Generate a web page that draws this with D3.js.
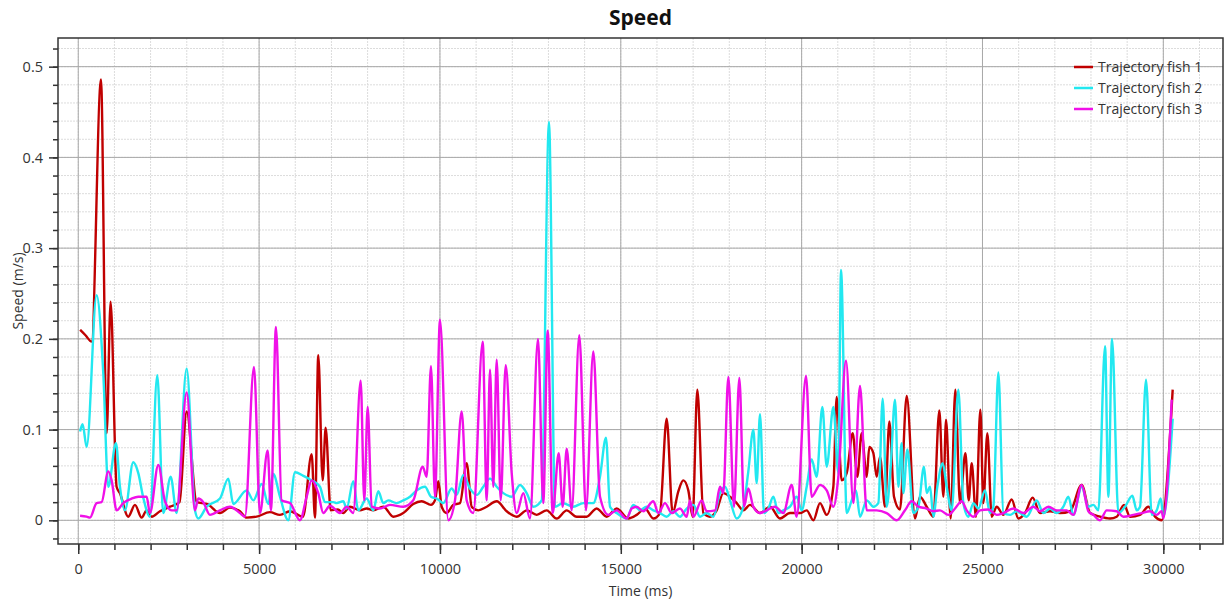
<!DOCTYPE html>
<html lang="en">
<head>
    <meta charset="UTF-8">
    <script src="https://d3js.org/d3.v7.min.js"></script>
    <title>Speed</title>
    <style>
        body { margin: 0; background: #fff; }
        svg text { font-family: "Open Sans", "Noto Sans", sans-serif; fill: #333; }
    </style>
</head>
<body>
    <div id="chart"></div>

    <script type="text/javascript">
        // [time (ms), speed (m/s)]
        const fish1 = [[50,0.21],[200,0.204],[370,0.197],[628,0.486],[785,0.096],[895,0.241],[1060,0.037],[1150,0.03],[1383,0.004],[1568,0.017],[1752,0.003],[1890,0.011],[2030,0.004],[2260,0.01],[2536,0.015],[2800,0.02],[2997,0.12],[3274,0.02],[3560,0.018],[3918,0.008],[4195,0.014],[4470,0.01],[4656,0.003],[4932,0.004],[5300,0.009],[5577,0.006],[5854,0.01],[6215,0.004],[6453,0.073],[6545,0.003],[6636,0.182],[6757,0.044],[6840,0.102],[6979,0.011],[7180,0.012],[7327,0.008],[7512,0.015],[7789,0.011],[7974,0.013],[8157,0.011],[8433,0.015],[8710,0.004],[8986,0.008],[9263,0.018],[9495,0.021],[9752,0.017],[9863,0.022],[9955,0.043],[10048,0.015],[10185,0.008],[10370,0.017],[10554,0.019],[10739,0.063],[10877,0.015],[11060,0.011],[11293,0.015],[11569,0.021],[11845,0.01],[12122,0.004],[12398,0.011],[12675,0.006],[12951,0.011],[13228,0.002],[13505,0.011],[13780,0.004],[14056,0.004],[14333,0.013],[14610,0.004],[14887,0.013],[15208,0.002],[15439,0.006],[15669,0.013],[15900,0.002],[16084,0.008],[16268,0.112],[16434,0.008],[16591,0.032],[16729,0.044],[16867,0.033],[16987,0.004],[17116,0.144],[17282,0.008],[17466,0.004],[17651,0.011],[17835,0.03],[18020,0.026],[18204,0.019],[18388,0.011],[18573,0.017],[18849,0.008],[19126,0.015],[19402,0.002],[19679,0.008],[19955,0.008],[20140,0.011],[20324,0.0],[20508,0.019],[20693,0.006],[20877,0.037],[20969,0.136],[21107,0.044],[21246,0.052],[21412,0.096],[21540,0.048],[21660,0.096],[21799,0.048],[21872,0.081],[21983,0.074],[22075,0.048],[22167,0.07],[22305,0.015],[22425,0.109],[22554,0.026],[22720,0.012],[22905,0.137],[23135,0.002],[23273,0.026],[23457,0.015],[23642,0.004],[23808,0.121],[23918,0.026],[23992,0.111],[24121,0.002],[24250,0.144],[24379,0.019],[24527,0.074],[24619,0.022],[24702,0.063],[24821,0.004],[24941,0.122],[25024,0.019],[25135,0.096],[25255,0.004],[25393,0.015],[25577,0.006],[25808,0.023],[25992,0.002],[26176,0.008],[26388,0.025],[26591,0.008],[26868,0.01],[27144,0.008],[27421,0.01],[27743,0.039],[27974,0.008],[28250,0.004],[28527,0.002],[28711,0.004],[28914,0.017],[29080,0.004],[29356,0.006],[29587,0.015],[29771,0.004],[29955,0.0],[30259,0.144]];

        const fish2 = [[50,0.098],[120,0.106],[232,0.081],[508,0.248],[692,0.162],[830,0.037],[1042,0.085],[1153,0.037],[1291,0.011],[1521,0.064],[1660,0.052],[1797,0.025],[1982,0.004],[2185,0.16],[2350,0.008],[2555,0.048],[2720,0.008],[2997,0.167],[3227,0.011],[3318,0.002],[3550,0.015],[3918,0.024],[4148,0.046],[4286,0.018],[4656,0.033],[4840,0.022],[5071,0.04],[5254,0.018],[5392,0.051],[5577,0.026],[5807,0.0],[5992,0.053],[6222,0.049],[6453,0.044],[6683,0.037],[6822,0.02],[7050,0.02],[7145,0.019],[7327,0.021],[7420,0.013],[7604,0.043],[7742,0.011],[7974,0.024],[8157,0.011],[8295,0.032],[8433,0.019],[8572,0.022],[8803,0.019],[8986,0.022],[9172,0.026],[9357,0.033],[9586,0.037],[9752,0.026],[9910,0.024],[10092,0.019],[10324,0.035],[10463,0.028],[10646,0.05],[10831,0.035],[11020,0.028],[11199,0.037],[11384,0.046],[11569,0.037],[11752,0.03],[11984,0.026],[12213,0.039],[12398,0.03],[12580,0.015],[12813,0.022],[13015,0.439],[13181,0.015],[13394,0.019],[13687,0.015],[13963,0.019],[14240,0.019],[14425,0.048],[14591,0.091],[14702,0.015],[14887,0.008],[15162,0.002],[15347,0.017],[15531,0.011],[15715,0.015],[15900,0.011],[16084,0.008],[16268,0.004],[16453,0.01],[16637,0.004],[16821,0.013],[17006,0.017],[17190,0.004],[17374,0.008],[17559,0.004],[17743,0.03],[17881,0.037],[18020,0.022],[18204,0.002],[18388,0.015],[18526,0.054],[18665,0.1],[18757,0.041],[18849,0.117],[18960,0.008],[19080,0.013],[19218,0.026],[19356,0.008],[19494,0.011],[19679,0.015],[19863,0.026],[20001,0.011],[20140,0.037],[20278,0.067],[20416,0.048],[20573,0.125],[20693,0.059],[20877,0.125],[21015,0.052],[21089,0.276],[21246,0.008],[21384,0.022],[21504,0.033],[21614,0.004],[21799,0.022],[21983,0.015],[22121,0.019],[22241,0.134],[22351,0.015],[22462,0.059],[22582,0.133],[22674,0.037],[22766,0.085],[22812,0.03],[22923,0.078],[23089,0.008],[23227,0.015],[23384,0.059],[23457,0.03],[23550,0.037],[23642,0.004],[23752,0.037],[23900,0.063],[24010,0.037],[24149,0.011],[24333,0.144],[24471,0.019],[24609,0.004],[24748,0.019],[24886,0.013],[25070,0.033],[25209,0.008],[25301,0.015],[25439,0.163],[25577,0.008],[25762,0.006],[25946,0.01],[26222,0.004],[26499,0.022],[26683,0.008],[26868,0.013],[27052,0.008],[27236,0.015],[27375,0.026],[27513,0.006],[27743,0.037],[27928,0.015],[28066,0.017],[28204,0.011],[28389,0.192],[28481,0.026],[28582,0.2],[28757,0.008],[28941,0.015],[29144,0.027],[29264,0.011],[29356,0.015],[29522,0.155],[29679,0.006],[29817,0.011],[29928,0.024],[30001,0.004],[30259,0.112]];

        const fish3 = [[50,0.005],[232,0.004],[324,0.003],[508,0.019],[646,0.02],[830,0.054],[923,0.044],[1060,0.011],[1245,0.019],[1475,0.024],[1660,0.026],[1890,0.026],[1982,0.008],[2213,0.061],[2397,0.021],[2582,0.011],[2720,0.011],[2997,0.141],[3227,0.011],[3318,0.024],[3457,0.02],[3641,0.006],[3918,0.011],[4195,0.015],[4470,0.008],[4609,0.004],[4858,0.169],[5024,0.008],[5236,0.077],[5328,0.011],[5466,0.213],[5623,0.022],[5854,0.019],[6130,0.0],[6315,0.026],[6453,0.044],[6636,0.03],[6775,0.008],[6960,0.016],[7236,0.008],[7421,0.015],[7604,0.008],[7808,0.154],[7908,0.022],[8002,0.125],[8112,0.015],[8342,0.013],[8618,0.017],[8986,0.015],[9263,0.022],[9523,0.059],[9633,0.048],[9752,0.17],[9863,0.026],[10001,0.221],[10231,0.0],[10416,0.022],[10601,0.12],[10739,0.022],[10922,0.008],[11182,0.197],[11293,0.022],[11384,0.166],[11475,0.037],[11569,0.177],[11680,0.022],[11818,0.171],[11984,0.052],[12122,0.008],[12305,0.03],[12490,0.002],[12711,0.2],[12857,0.019],[12979,0.209],[13117,0.008],[13283,0.074],[13394,0.015],[13505,0.079],[13643,0.011],[13853,0.204],[14038,0.011],[14240,0.186],[14425,0.026],[14655,0.006],[14887,0.011],[15162,0.002],[15301,0.013],[15439,0.015],[15623,0.01],[15900,0.021],[16038,0.008],[16222,0.019],[16407,0.008],[16637,0.013],[16821,0.004],[16913,0.022],[17006,0.004],[17236,0.022],[17374,0.01],[17605,0.011],[17743,0.037],[17835,0.03],[17974,0.158],[18130,0.015],[18278,0.157],[18407,0.015],[18526,0.035],[18665,0.015],[18849,0.008],[19033,0.011],[19264,0.015],[19494,0.008],[19725,0.039],[19863,0.004],[20121,0.159],[20278,0.026],[20508,0.039],[20693,0.033],[20877,0.015],[21015,0.048],[21227,0.176],[21430,0.019],[21614,0.148],[21799,0.011],[22075,0.011],[22351,0.008],[22628,0.0],[22858,0.011],[23043,0.021],[23227,0.015],[23457,0.013],[23642,0.01],[23826,0.011],[24056,0.006],[24241,0.013],[24425,0.021],[24563,0.011],[24748,0.004],[24932,0.011],[25163,0.012],[25393,0.006],[25577,0.008],[25854,0.013],[26130,0.008],[26407,0.015],[26591,0.01],[26822,0.015],[27052,0.011],[27329,0.011],[27513,0.006],[27743,0.039],[27928,0.01],[28066,0.006],[28250,0.0],[28435,0.011],[28711,0.01],[28895,0.004],[29172,0.006],[29402,0.008],[29633,0.01],[29817,0.006],[29955,0.01],[30001,0.002],[30232,0.133]];

        const seriesNames = ["Trajectory fish 1", "Trajectory fish 2", "Trajectory fish 3"];
        const xTicks = [0, 5000, 10000, 15000, 20000, 25000, 30000];
        const yTicks = [0, 0.1, 0.2, 0.3, 0.4, 0.5];

        const colors = ["#c00000", "#22e8f0", "#f010e8"];

        const width = 1225;
        const height = 605;
        const plot = { left: 58, right: 1223, top: 38, bottom: 544 };

        const svg = d3.select("#chart")
            .append("svg")
            .attr("width", width)
            .attr("height", height);

        const x = d3.scaleLinear().domain([-560, 31650]).range([plot.left, plot.right]);
        const y = d3.scaleLinear().domain([-0.0261, 0.5316]).range([plot.bottom, plot.top]);

        const xMinor = d3.range(0, 31001, 1000);
        const yMinor = d3.range(-0.02, 0.531, 0.02);

        // minor grid
        svg.append("g").selectAll("line")
            .data(xMinor)
            .enter().append("line")
            .attr("x1", d => x(d)).attr("x2", d => x(d))
            .attr("y1", plot.top).attr("y2", plot.bottom)
            .attr("stroke", "#dcdcdc")
            .attr("stroke-dasharray", "2,1");

        svg.append("g").selectAll("line")
            .data(yMinor)
            .enter().append("line")
            .attr("x1", plot.left).attr("x2", plot.right)
            .attr("y1", d => y(d)).attr("y2", d => y(d))
            .attr("stroke", "#dcdcdc")
            .attr("stroke-dasharray", "2,1");

        // major grid
        svg.append("g").selectAll("line")
            .data(xTicks)
            .enter().append("line")
            .attr("x1", d => x(d)).attr("x2", d => x(d))
            .attr("y1", plot.top).attr("y2", plot.bottom)
            .attr("stroke", "#a8a8a8");

        svg.append("g").selectAll("line")
            .data(yTicks)
            .enter().append("line")
            .attr("x1", plot.left).attr("x2", plot.right)
            .attr("y1", d => y(d)).attr("y2", d => y(d))
            .attr("stroke", "#a8a8a8");

        // lines
        const line = d3.line()
            .x(d => x(d[0]))
            .y(d => y(d[1]))
            .curve(d3.curveMonotoneX);

        [fish1, fish2, fish3].forEach((data, i) => {
            svg.append("path")
                .datum(data)
                .attr("d", line)
                .attr("fill", "none")
                .attr("stroke", colors[i])
                .attr("stroke-width", 2.4)
                .attr("stroke-linejoin", "round");
        });

        // frame
        svg.append("rect")
            .attr("x", plot.left).attr("y", plot.top)
            .attr("width", plot.right - plot.left)
            .attr("height", plot.bottom - plot.top)
            .attr("fill", "none")
            .attr("stroke", "#333")
            .attr("stroke-width", 1.5);

        // axes
        const xAxis = svg.append("g")
            .attr("transform", `translate(0,${plot.bottom})`)
            .call(d3.axisBottom(x).tickValues(xTicks).tickSize(10).tickPadding(10).tickFormat(d3.format("d")));
        svg.append("g")
            .attr("transform", `translate(0,${plot.bottom})`)
            .call(d3.axisBottom(x).tickValues(xMinor).tickSize(6).tickFormat(""));

        const yAxis = svg.append("g")
            .attr("transform", `translate(${plot.left},0)`)
            .call(d3.axisLeft(y).tickValues(yTicks).tickSize(9).tickPadding(6).tickFormat(d => d === 0 ? "0" : d.toFixed(1)));
        svg.append("g")
            .attr("transform", `translate(${plot.left},0)`)
            .call(d3.axisLeft(y).tickValues(yMinor).tickSize(5).tickFormat(""));

        svg.selectAll(".domain").remove();
        svg.selectAll(".tick line").attr("stroke", "#333").attr("stroke-width", 1.5);
        svg.selectAll(".tick text").style("font-size", "14.5px").style("fill", "#333");

        // title and axis labels
        svg.append("text")
            .attr("x", (plot.left + plot.right) / 2)
            .attr("y", 25)
            .attr("text-anchor", "middle")
            .style("font-size", "21px")
            .style("font-weight", "bold")
            .style("fill", "#111")
            .text("Speed");

        svg.append("text")
            .attr("x", (plot.left + plot.right) / 2)
            .attr("y", 596)
            .attr("text-anchor", "middle")
            .style("font-size", "14px")
            .text("Time (ms)");

        svg.append("text")
            .attr("transform", `translate(23,${(plot.top + plot.bottom) / 2}) rotate(-90)`)
            .attr("text-anchor", "middle")
            .style("font-size", "14px")
            .text("Speed (m/s)");

        // legend
        const legend = svg.append("g").attr("transform", "translate(1074,67)");
        seriesNames.forEach((name, i) => {
            const row = legend.append("g").attr("transform", `translate(0,${i * 21})`);
            row.append("line")
                .attr("x1", 0).attr("x2", 19)
                .attr("stroke", colors[i])
                .attr("stroke-width", 2.5);
            row.append("text")
                .attr("x", 24)
                .attr("dy", "0.35em")
                .style("font-size", "14px")
                .text(name);
        });
    </script>
</body>
</html>
